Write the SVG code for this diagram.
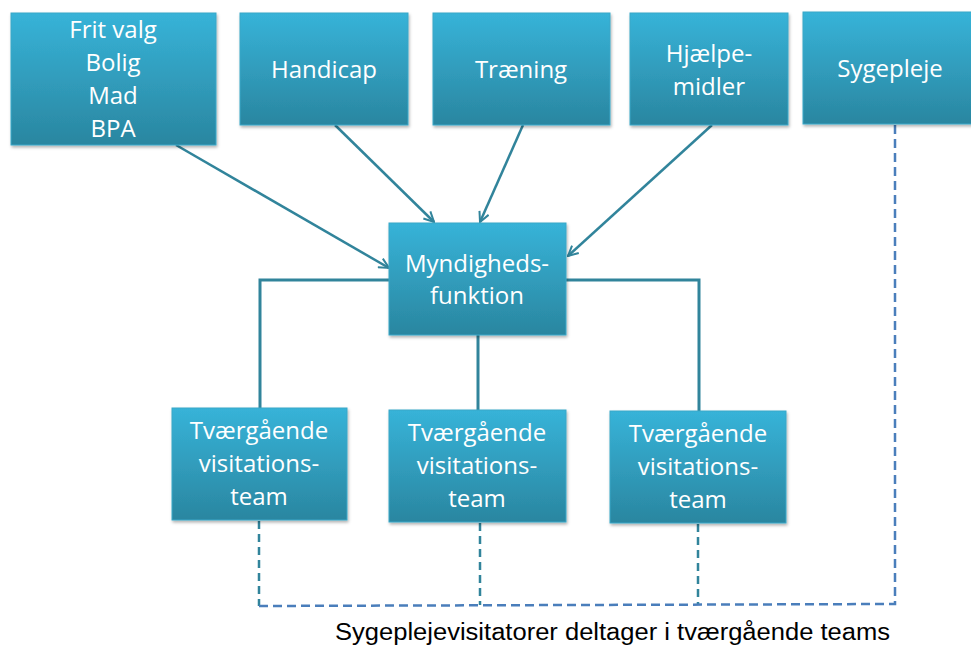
<svg xmlns="http://www.w3.org/2000/svg" width="971" height="647" viewBox="0 0 971 647">
<defs>
<linearGradient id="g" x1="0" y1="0" x2="0" y2="1">
<stop offset="0" stop-color="#37b3d8"/>
<stop offset="1" stop-color="#2a86a0"/>
</linearGradient>
<filter id="sh" x="-10%" y="-10%" width="120%" height="125%">
<feDropShadow dx="1" dy="2" stdDeviation="1.5" flood-color="#000" flood-opacity="0.3"/>
</filter>
<marker id="ah" viewBox="0 0 12 12" refX="11" refY="6" markerWidth="12" markerHeight="12" markerUnits="userSpaceOnUse" orient="auto">
<path d="M1,1 L11,6 L1,11" fill="none" stroke="#31849b" stroke-width="2"/>
</marker>
<style>
.box{fill:url(#g);stroke:#3aa7c8;stroke-width:1;filter:url(#sh)}
.t{font-family:"Open Sans","Liberation Sans",sans-serif;font-size:24px;fill:#fff;text-anchor:middle}
.c{stroke:#31849b;stroke-width:3;fill:none}
.a{stroke:#31849b;stroke-width:2.5;fill:none;marker-end:url(#ah)}
.d{stroke:#31849b;stroke-width:2.5;fill:none;stroke-dasharray:8 5}
.db{stroke:#4a7ebb;stroke-width:2.5;fill:none;stroke-dasharray:9 5}
</style>
</defs>
<rect width="971" height="647" fill="#fff"/>
<g id="connectors">
<line class="a" x1="176" y1="145" x2="389" y2="268"/>
<line class="a" x1="335" y1="125" x2="434" y2="222"/>
<line class="a" x1="523" y1="125" x2="480" y2="222"/>
<line class="a" x1="712" y1="125" x2="568" y2="256"/>
<polyline class="c" points="389,280 260,280 260,408"/>
<polyline class="c" points="566,280 699,280 699,411"/>
<line class="c" x1="478" y1="335" x2="478" y2="410"/>
<line class="d" x1="259" y1="521" x2="259" y2="606"/>
<line class="d" x1="480" y1="523" x2="480" y2="605"/>
<line class="d" x1="698" y1="524" x2="698" y2="604"/>
<polyline class="db" points="259,606 895,604 895,125"/>
</g>
<g id="n-frit">
<rect class="box" x="11" y="13" width="205" height="132"/>
<text class="t" x="113" y="38">Frit valg</text>
<text class="t" x="113" y="71">Bolig</text>
<text class="t" x="113" y="104">Mad</text>
<text class="t" x="113" y="137">BPA</text>
</g>
<g id="n-handicap">
<rect class="box" x="240" y="13" width="168" height="112"/>
<text class="t" x="324" y="78">Handicap</text>
</g>
<g id="n-traening">
<rect class="box" x="433" y="13" width="177" height="112"/>
<text class="t" x="521" y="78">Træning</text>
</g>
<g id="n-hjaelpe">
<rect class="box" x="630" y="13" width="158" height="112"/>
<text class="t" x="709" y="62">Hjælpe-</text>
<text class="t" x="709" y="95">midler</text>
</g>
<g id="n-sygepleje">
<rect class="box" x="803" y="12" width="176" height="112"/>
<text class="t" x="890" y="77">Sygepleje</text>
</g>
<g id="n-myndighed">
<rect class="box" x="389" y="223" width="177" height="112"/>
<text class="t" x="477" y="272">Myndigheds-</text>
<text class="t" x="477" y="304">funktion</text>
</g>
<g id="n-team1">
<rect class="box" x="172" y="408" width="175" height="112"/>
<text class="t" x="259" y="439">Tværgående</text>
<text class="t" x="259" y="472">visitations-</text>
<text class="t" x="259" y="505">team</text>
</g>
<g id="n-team2">
<rect class="box" x="389" y="410" width="177" height="112"/>
<text class="t" x="477" y="441">Tværgående</text>
<text class="t" x="477" y="474">visitations-</text>
<text class="t" x="477" y="507">team</text>
</g>
<g id="n-team3">
<rect class="box" x="610" y="411" width="176" height="112"/>
<text class="t" x="698" y="442">Tværgående</text>
<text class="t" x="698" y="475">visitations-</text>
<text class="t" x="698" y="508">team</text>
</g>
<text x="335" y="640" font-family="Liberation Sans, sans-serif" font-size="23" fill="#000" textLength="555" lengthAdjust="spacingAndGlyphs">Sygeplejevisitatorer deltager i tværgående teams</text>
</svg>
